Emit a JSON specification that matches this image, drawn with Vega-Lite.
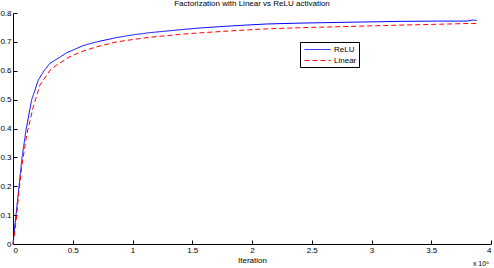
{
  "$schema": "https://vega.github.io/schema/vega-lite/v6.json",
  "width": 478,
  "height": 231,
  "autosize": {"type": "none"},
  "padding": {"left": 13, "top": 13, "right": 3, "bottom": 24},
  "background": "white",
  "config": {
    "view": {"stroke": null},
    "font": "Liberation Sans",
    "axis": {"grid": false, "domainColor": "black", "tickColor": "black", "labelColor": "black", "titleColor": "black", "labelFontSize": 8, "titleFontSize": 8, "titleFontWeight": "normal", "tickSize": -4, "labelPadding": 6, "domainWidth": 1, "tickWidth": 1, "labelOverlap": false},
    "title": {"fontSize": 8, "fontWeight": "normal", "color": "black", "offset": 0, "dy": 3}
  },
  "title": "Factorization with Linear vs ReLU activation",
  "datasets": {
    "curves": [
      {"iter": 0, "acc": 0, "series": "ReLU"},
      {"iter": 12000, "acc": 0.05, "series": "ReLU"},
      {"iter": 25000, "acc": 0.10, "series": "ReLU"},
      {"iter": 50000, "acc": 0.198, "series": "ReLU"},
      {"iter": 75000, "acc": 0.297, "series": "ReLU"},
      {"iter": 109000, "acc": 0.395, "series": "ReLU"},
      {"iter": 156000, "acc": 0.499, "series": "ReLU"},
      {"iter": 212000, "acc": 0.568, "series": "ReLU"},
      {"iter": 260000, "acc": 0.600, "series": "ReLU"},
      {"iter": 310000, "acc": 0.626, "series": "ReLU"},
      {"iter": 366000, "acc": 0.640, "series": "ReLU"},
      {"iter": 449000, "acc": 0.662, "series": "ReLU"},
      {"iter": 586000, "acc": 0.687, "series": "ReLU"},
      {"iter": 700000, "acc": 0.700, "series": "ReLU"},
      {"iter": 868000, "acc": 0.715, "series": "ReLU"},
      {"iter": 1000000, "acc": 0.724, "series": "ReLU"},
      {"iter": 1146000, "acc": 0.732, "series": "ReLU"},
      {"iter": 1300000, "acc": 0.738, "series": "ReLU"},
      {"iter": 1423000, "acc": 0.743, "series": "ReLU"},
      {"iter": 1560000, "acc": 0.748, "series": "ReLU"},
      {"iter": 1707000, "acc": 0.752, "series": "ReLU"},
      {"iter": 1900000, "acc": 0.757, "series": "ReLU"},
      {"iter": 2125000, "acc": 0.762, "series": "ReLU"},
      {"iter": 2400000, "acc": 0.765, "series": "ReLU"},
      {"iter": 2678000, "acc": 0.767, "series": "ReLU"},
      {"iter": 2950000, "acc": 0.769, "series": "ReLU"},
      {"iter": 3238000, "acc": 0.771, "series": "ReLU"},
      {"iter": 3550000, "acc": 0.772, "series": "ReLU"},
      {"iter": 3800000, "acc": 0.772, "series": "ReLU"},
      {"iter": 3850000, "acc": 0.776, "series": "ReLU"},
      {"iter": 3880000, "acc": 0.774, "series": "ReLU"},
      {"iter": 0, "acc": 0, "series": "Linear"},
      {"iter": 12000, "acc": 0.03, "series": "Linear"},
      {"iter": 25000, "acc": 0.077, "series": "Linear"},
      {"iter": 50000, "acc": 0.181, "series": "Linear"},
      {"iter": 75000, "acc": 0.274, "series": "Linear"},
      {"iter": 115000, "acc": 0.378, "series": "Linear"},
      {"iter": 170000, "acc": 0.476, "series": "Linear"},
      {"iter": 226000, "acc": 0.551, "series": "Linear"},
      {"iter": 310000, "acc": 0.602, "series": "Linear"},
      {"iter": 366000, "acc": 0.620, "series": "Linear"},
      {"iter": 477000, "acc": 0.649, "series": "Linear"},
      {"iter": 586000, "acc": 0.668, "series": "Linear"},
      {"iter": 700000, "acc": 0.683, "series": "Linear"},
      {"iter": 868000, "acc": 0.700, "series": "Linear"},
      {"iter": 1000000, "acc": 0.708, "series": "Linear"},
      {"iter": 1146000, "acc": 0.716, "series": "Linear"},
      {"iter": 1300000, "acc": 0.722, "series": "Linear"},
      {"iter": 1423000, "acc": 0.727, "series": "Linear"},
      {"iter": 1560000, "acc": 0.731, "series": "Linear"},
      {"iter": 1707000, "acc": 0.735, "series": "Linear"},
      {"iter": 1900000, "acc": 0.740, "series": "Linear"},
      {"iter": 2125000, "acc": 0.745, "series": "Linear"},
      {"iter": 2400000, "acc": 0.749, "series": "Linear"},
      {"iter": 2678000, "acc": 0.752, "series": "Linear"},
      {"iter": 2950000, "acc": 0.755, "series": "Linear"},
      {"iter": 3238000, "acc": 0.758, "series": "Linear"},
      {"iter": 3550000, "acc": 0.761, "series": "Linear"},
      {"iter": 3850000, "acc": 0.764, "series": "Linear"},
      {"iter": 3880000, "acc": 0.763, "series": "Linear"}
    ],
    "note": [{"iter": 3916000, "acc": -0.07, "label": "x 10⁶"}]
  },
  "encoding": {
    "x": {"field": "iter", "type": "quantitative", "title": "Iteration",
          "scale": {"domain": [0, 4000000], "nice": false},
          "axis": {"values": [0, 500000, 1000000, 1500000, 2000000, 2500000, 3000000, 3500000, 4000000], "labelExpr": "datum.value / 1000000", "titlePadding": 2, "labelOverlap": false}},
    "y": {"field": "acc", "type": "quantitative", "title": null,
          "scale": {"domain": [0, 0.8], "nice": false},
          "axis": {"values": [0, 0.1, 0.2, 0.3, 0.4, 0.5, 0.6, 0.7, 0.8], "labelExpr": "datum.value == 0 ? '0' : format(datum.value, '.1f')", "labelOverlap": false, "labelSeparation": 0}}
  },
  "layer": [
    {
      "data": {"name": "curves"},
      "mark": {"type": "line", "strokeWidth": 1},
      "encoding": {
        "color": {"field": "series", "type": "nominal", "sort": ["ReLU", "Linear"],
                  "scale": {"domain": ["ReLU", "Linear"], "range": ["#0000ff", "#ff0000"]},
                  "legend": {"title": null, "orient": "none", "legendX": 287, "legendY": 29, "strokeColor": "black", "fillColor": "white", "padding": 2, "labelFontSize": 8, "labelColor": "black", "symbolType": "M-0.6,0H4.6", "symbolSize": 100, "symbolStrokeWidth": 1, "rowPadding": 1, "cornerRadius": 0, "labelOffset": 21}},
        "strokeDash": {"field": "series", "type": "nominal", "sort": ["ReLU", "Linear"],
                       "scale": {"domain": ["ReLU", "Linear"], "range": [[1, 0], [5, 3]]},
                       "legend": null}
      }
    },
    {
      "data": {"name": "note"},
      "mark": {"type": "text", "fontSize": 7, "align": "center", "baseline": "middle", "clip": false, "color": "black"},
      "encoding": {
        "text": {"field": "label"}
      }
    }
  ]
}
